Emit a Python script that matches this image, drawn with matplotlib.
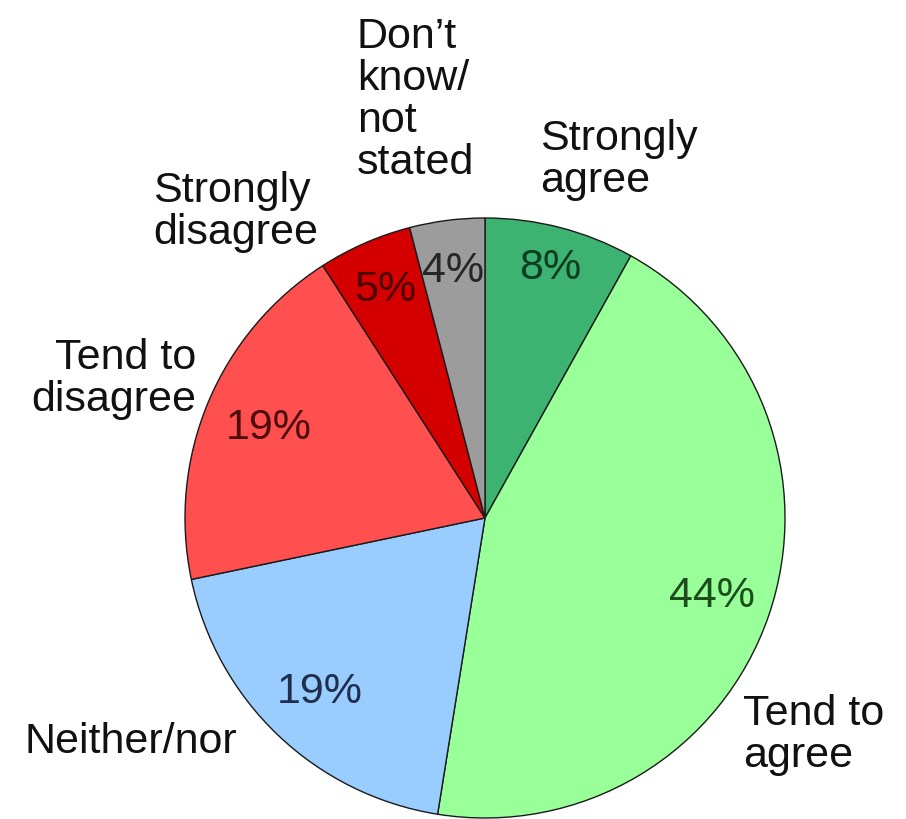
import matplotlib.pyplot as plt
import numpy as np

plt.rcParams["font.family"] = ["Liberation Sans", "DejaVu Sans"]

# survey responses, clockwise from 12 o'clock
categories = [
    "Strongly agree",
    "Tend to agree",
    "Neither/nor",
    "Tend to disagree",
    "Strongly disagree",
    "Don't know/not stated",
]
shares = [8, 44, 19, 19, 5, 4]

slice_colors = ["#3cb371", "#99ff99", "#99ccff", "#ff4f4f", "#d40000", "#9c9c9c"]
pct_colors = ["#0f3d22", "#1d4d1d", "#1f2f4d", "#4d0d0d", "#4d0000", "#262626"]

# wrapped label text and where it sits (pixels from top-left), with alignment
label_text = [
    "Strongly\nagree",
    "Tend to\nagree",
    "Neither/nor",
    "Tend to\ndisagree",
    "Strongly\ndisagree",
    "Don\u2019t\nknow/\nnot\nstated",
]
label_xy = [(540, 160), (743, 735), (25, 742), (196, 379), (153, 212), (357, 100)]
label_ha = ["left", "left", "left", "right", "left", "left"]
pct_dist = [0.86, 0.8, 0.8, 0.78, 0.83, 0.83]

W, H = 906, 819
center = (485, H - 518)
radius = 300
font_size = 31

fig = plt.figure(figsize=(W / 100, H / 100), dpi=100)
ax = fig.add_axes([0, 0, 1, 1])

wedges, _ = ax.pie(
    shares,
    colors=slice_colors,
    startangle=90,
    counterclock=False,
    center=center,
    radius=radius,
    wedgeprops=dict(edgecolor="#1a1a1a", linewidth=1.0),
)

# percentage inside each wedge at its mid-angle
total = sum(shares)
for w, v, d, c in zip(wedges, shares, pct_dist, pct_colors):
    mid = np.deg2rad((w.theta1 + w.theta2) / 2)
    x = center[0] + d * radius * np.cos(mid)
    y = center[1] + d * radius * np.sin(mid)
    ax.text(x, y, f"{round(100 * v / total)}%", ha="center", va="center",
            fontsize=font_size, color=c)

for txt, (x, y), ha in zip(label_text, label_xy, label_ha):
    ax.text(x, H - y, txt, ha=ha, va="center", fontsize=font_size,
            color="#111111", linespacing=1.07, multialignment=ha)

ax.set_xlim(0, W)
ax.set_ylim(0, H)
ax.set_aspect("equal")
ax.axis("off")

fig.savefig("out.png", dpi=100, facecolor="white")
